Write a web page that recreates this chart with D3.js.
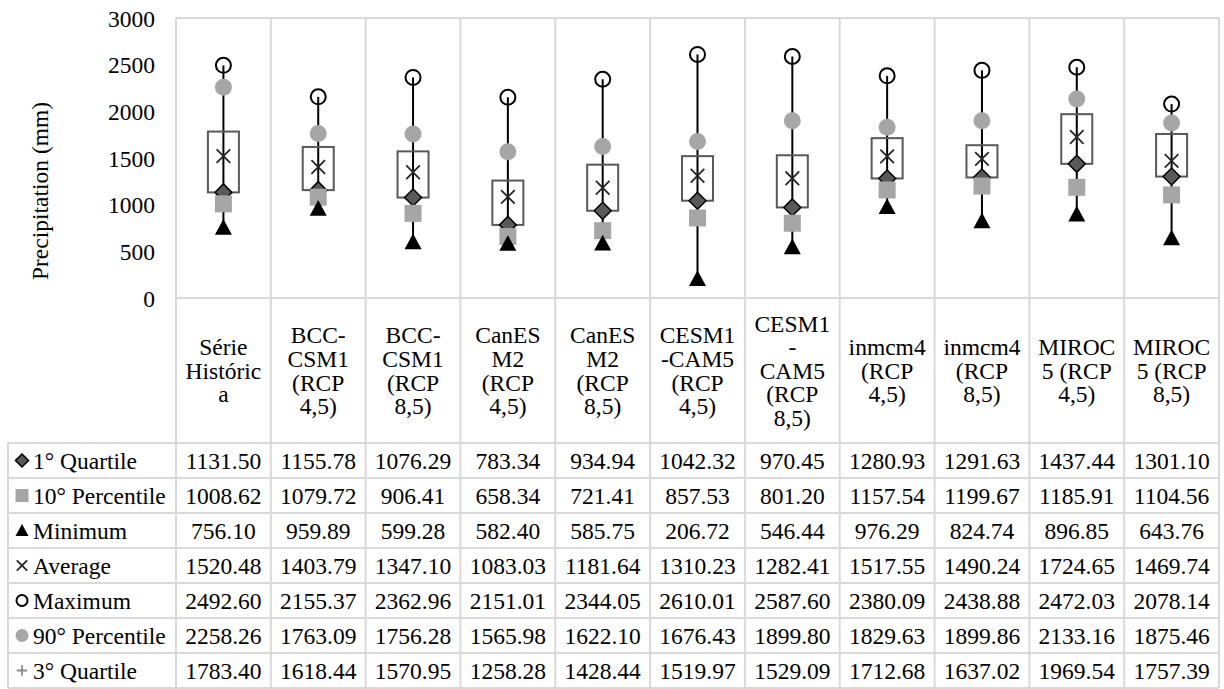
<!DOCTYPE html>
<html>
<head>
<meta charset="utf-8">
<script src="https://cdn.jsdelivr.net/npm/d3@7"></script>
<style>
  html, body { margin: 0; padding: 0; background: #fff; }
  svg { display: block; }
  svg text { font-family: "Liberation Serif", Tinos, "Times New Roman", "DejaVu Serif", serif !important; }
</style>
</head>
<body>
<svg id="chart" width="1224" height="689"></svg>
<script>
// ---- Data ----
const categories = ["Série Histórica", "BCC-CSM1 (RCP 4,5)", "BCC-CSM1 (RCP 8,5)", "CanESM2 (RCP 4,5)", "CanESM2 (RCP 8,5)",
  "CESM1-CAM5 (RCP 4,5)", "CESM1- CAM5 (RCP 8,5)", "inmcm4 (RCP 4,5)", "inmcm4 (RCP 8,5)", "MIROC5 (RCP 4,5)", "MIROC5 (RCP 8,5)"];
const categoryLines = [
  ["Série", "Históric", "a"],
  ["BCC-", "CSM1", "(RCP", "4,5)"],
  ["BCC-", "CSM1", "(RCP", "8,5)"],
  ["CanES", "M2", "(RCP", "4,5)"],
  ["CanES", "M2", "(RCP", "8,5)"],
  ["CESM1", "-CAM5", "(RCP", "4,5)"],
  ["CESM1", "-", "CAM5", "(RCP", "8,5)"],
  ["inmcm4", "(RCP", "4,5)"],
  ["inmcm4", "(RCP", "8,5)"],
  ["MIROC", "5 (RCP", "4,5)"],
  ["MIROC", "5 (RCP", "8,5)"]
];
const quartile1 = [1131.50, 1155.78, 1076.29, 783.34, 934.94, 1042.32, 970.45, 1280.93, 1291.63, 1437.44, 1301.10];
const percentile10 = [1008.62, 1079.72, 906.41, 658.34, 721.41, 857.53, 801.20, 1157.54, 1199.67, 1185.91, 1104.56];
const minimum = [756.10, 959.89, 599.28, 582.40, 585.75, 206.72, 546.44, 976.29, 824.74, 896.85, 643.76];
const average = [1520.48, 1403.79, 1347.10, 1083.03, 1181.64, 1310.23, 1282.41, 1517.55, 1490.24, 1724.65, 1469.74];
const maximum = [2492.60, 2155.37, 2362.96, 2151.01, 2344.05, 2610.01, 2587.60, 2380.09, 2438.88, 2472.03, 2078.14];
const percentile90 = [2258.26, 1763.09, 1756.28, 1565.98, 1622.10, 1676.43, 1899.80, 1829.63, 1899.86, 2133.16, 1875.46];
const quartile3 = [1783.40, 1618.44, 1570.95, 1258.28, 1428.44, 1519.97, 1529.09, 1712.68, 1637.02, 1969.54, 1757.39];
const yTicks = [0, 500, 1000, 1500, 2000, 2500, 3000];
const yTitle = "Precipitation (mm)";

const seriesRows = [
  { name: "1° Quartile", values: quartile1, marker: "diamond" },
  { name: "10° Percentile", values: percentile10, marker: "square" },
  { name: "Minimum", values: minimum, marker: "triangle" },
  { name: "Average", values: average, marker: "x" },
  { name: "Maximum", values: maximum, marker: "ocircle" },
  { name: "90° Percentile", values: percentile90, marker: "gcircle" },
  { name: "3° Quartile", values: quartile3, marker: "plus" }
];

// ---- Layout ----
const FONT = "'Liberation Serif', Tinos, 'Times New Roman', 'DejaVu Serif', serif";
const svg = d3.select("#chart").attr("font-family", FONT);
const plotTop = 18, plotBottom = 298, plotLeft = 176, plotRight = 1219;
const tableLeft = 8, catRowBottom = 443, rowH = 35;
const FS = 23.5;
const gridColor = "#d9d9d9";

const x = d3.scaleBand().domain(categories).range([plotLeft, plotRight]).paddingInner(0).paddingOuter(0);
const y = d3.scaleLinear().domain([0, 3000]).range([plotBottom, plotTop]);
const cx = i => x(categories[i]) + x.bandwidth() / 2;

// ---- Grid / table lines ----
const grid = svg.append("g").attr("stroke", gridColor).attr("stroke-width", 2);
const tableBottom = catRowBottom + rowH * seriesRows.length;
grid.append("line").attr("x1", plotLeft).attr("x2", plotRight).attr("y1", y(3000)).attr("y2", y(3000));
grid.append("line").attr("x1", plotLeft).attr("x2", plotRight).attr("y1", y(0)).attr("y2", y(0));
const colEdges = categories.map(c => x(c)).concat([plotRight]);
colEdges.forEach(xe => {
  grid.append("line").attr("x1", xe).attr("x2", xe).attr("y1", plotTop).attr("y2", tableBottom);
});
grid.append("line").attr("x1", tableLeft).attr("x2", tableLeft).attr("y1", catRowBottom).attr("y2", tableBottom);
for (let r = 0; r <= seriesRows.length; r++) {
  const yy = catRowBottom + r * rowH;
  grid.append("line").attr("x1", tableLeft).attr("x2", plotRight).attr("y1", yy).attr("y2", yy);
}

// ---- Y axis ----
const yAxis = d3.axisLeft(y).tickValues(yTicks).tickSize(0).tickPadding(0).tickFormat(d3.format("d"));
const gy = svg.append("g").attr("transform", `translate(155,0)`).call(yAxis);
gy.attr("font-family", FONT).attr("font-size", FS);
gy.select(".domain").remove();
gy.selectAll("text").attr("font-size", FS).attr("font-family", FONT).attr("fill", "#000").attr("dy", "0.35em");

svg.append("text").attr("transform", "translate(48,191) rotate(-90)")
  .attr("text-anchor", "middle").attr("font-size", FS).attr("font-family", FONT).attr("fill", "#000").text(yTitle);

// ---- Marker shapes ----
function drawMarker(g, type, px, py, s) {
  const h = s / 2;
  switch (type) {
    case "diamond":
      g.append("path").attr("d", `M${px},${py - h}L${px + h},${py}L${px},${py + h}L${px - h},${py}Z`)
        .attr("fill", "#595959").attr("stroke", "#000").attr("stroke-width", 1.5);
      break;
    case "square":
      g.append("rect").attr("x", px - h).attr("y", py - h).attr("width", s).attr("height", s).attr("fill", "#a6a6a6");
      break;
    case "triangle":
      g.append("path").attr("d", `M${px},${py - h}L${px + h},${py + h * 0.85}L${px - h},${py + h * 0.85}Z`).attr("fill", "#000");
      break;
    case "x": {
      const k = h * 0.8;
      g.append("path").attr("d", `M${px - k},${py - k}L${px + k},${py + k}M${px - k},${py + k}L${px + k},${py - k}`)
        .attr("stroke", "#262626").attr("stroke-width", 1.8).attr("fill", "none");
      break;
    }
    case "ocircle":
      g.append("circle").attr("cx", px).attr("cy", py).attr("r", h - 1).attr("fill", "none").attr("stroke", "#000").attr("stroke-width", 2);
      break;
    case "gcircle":
      g.append("circle").attr("cx", px).attr("cy", py).attr("r", h).attr("fill", "#a6a6a6");
      break;
    case "plus": {
      const k = h * 0.8;
      g.append("path").attr("d", `M${px - k},${py}L${px + k},${py}M${px},${py - k}L${px},${py + k}`)
        .attr("stroke", "#8c8c8c").attr("stroke-width", 1.8).attr("fill", "none");
      break;
    }
  }
}

// ---- Chart marks ----
const marks = svg.append("g");
marks.selectAll("line.hl").data(categories).enter().append("line")
  .attr("x1", (d, i) => cx(i)).attr("x2", (d, i) => cx(i))
  .attr("y1", (d, i) => y(minimum[i])).attr("y2", (d, i) => y(maximum[i]))
  .attr("stroke", "#000").attr("stroke-width", 2);
const boxW = 31;
marks.selectAll("rect.box").data(categories).enter().append("rect")
  .attr("x", (d, i) => cx(i) - boxW / 2).attr("width", boxW)
  .attr("y", (d, i) => y(quartile3[i])).attr("height", (d, i) => y(quartile1[i]) - y(quartile3[i]))
  .attr("fill", "none").attr("stroke", "#595959").attr("stroke-width", 2);
const mSize = 17;
seriesRows.forEach(s => {
  if (s.marker === "plus") return;
  s.values.forEach((v, i) => drawMarker(marks, s.marker, cx(i), y(v), mSize));
});

// ---- Category header row ----
const lineStep = 23.6, catCenter = 370.5;
categoryLines.forEach((lines, i) => {
  const t = svg.append("text").attr("text-anchor", "middle").attr("font-size", FS).attr("font-family", FONT).attr("fill", "#000");
  const start = catCenter - (lines.length - 1) * lineStep / 2;
  lines.forEach((ln, k) => {
    t.append("tspan").attr("x", cx(i)).attr("y", start + k * lineStep).attr("dy", "0.35em").text(ln);
  });
});

// ---- Data table ----
seriesRows.forEach((s, r) => {
  const yc = catRowBottom + r * rowH + rowH / 2;
  drawMarker(svg, s.marker, 22, yc, 13);
  svg.append("text").attr("x", 33).attr("y", yc).attr("dy", "0.35em").attr("font-size", FS).attr("font-family", FONT).attr("fill", "#000").text(s.name);
  s.values.forEach((v, i) => {
    svg.append("text").attr("x", cx(i)).attr("y", yc).attr("dy", "0.35em").attr("text-anchor", "middle")
      .attr("font-size", FS).attr("font-family", FONT).attr("fill", "#000").text(v.toFixed(2));
  });
});
</script>
</body>
</html>
